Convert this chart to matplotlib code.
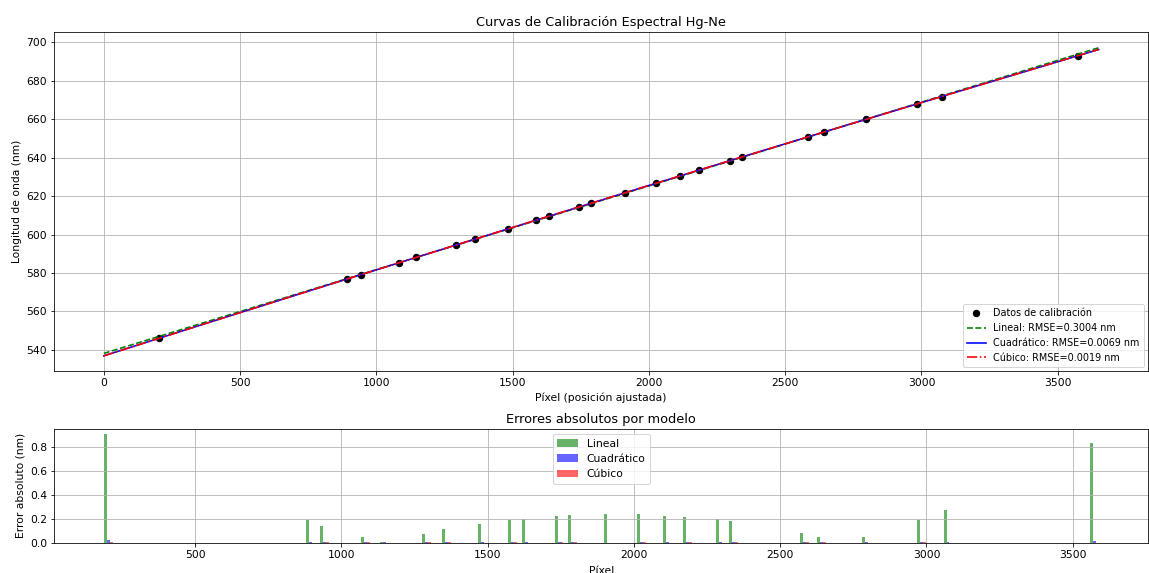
import numpy as np
import matplotlib
matplotlib.use("Agg")
import matplotlib.pyplot as plt

# Hg-Ne reference lines and where they land on the detector
pixels = np.array([202.8, 893.1, 942.2, 1083.5, 1147.1, 1291.0, 1360.5, 1482.5,
                   1584.9, 1634.0, 1744.1, 1789.2, 1912.5, 2026.0, 2115.7, 2182.6,
                   2296.1, 2339.7, 2582.0, 2642.0, 2796.1, 2982.4, 3073.6, 3573.6])
wavelengths = np.array([546.07, 576.96, 579.07, 585.25, 588.19, 594.48, 597.55, 602.99,
                        607.43, 609.62, 614.31, 616.36, 621.73, 626.65, 630.48, 633.44,
                        638.30, 640.22, 650.65, 653.29, 659.90, 667.83, 671.70, 692.95])

# absolute residuals per model (nm)
err_lineal = [0.903, 0.190, 0.140, 0.045, 0.005, 0.073, 0.112, 0.157, 0.190, 0.196,
              0.226, 0.232, 0.241, 0.241, 0.224, 0.218, 0.196, 0.182, 0.084, 0.045,
              0.045, 0.190, 0.274, 0.828]
err_cuadratico = [0.020, 0.004, 0.003, 0.006, 0.005, 0.004, 0.002, 0.005, 0.006, 0.007,
                  0.003, 0.002, 0.001, 0.004, 0.003, 0.005, 0.006, 0.004, 0.007, 0.003,
                  0.006, 0.002, 0.004, 0.013]
err_cubico = [0.002, 0.001, 0.003, 0.002, 0.001, 0.002, 0.004, 0.001, 0.002, 0.001,
              0.002, 0.003, 0.001, 0.002, 0.001, 0.002, 0.001, 0.003, 0.004, 0.002,
              0.001, 0.002, 0.001, 0.001]

rmse = {"Lineal": 0.3004, "Cuadrático": 0.0069, "Cúbico": 0.0019}

plt.rcParams["font.size"] = 10.7
plt.rcParams["lines.linewidth"] = 1.6
plt.rcParams["lines.markersize"] = 6.4

fig = plt.figure(figsize=(1149 / 72, 573 / 72), dpi=72)
ax1 = fig.add_axes([0.047, 0.352, 0.9525, 0.5916])
ax2 = fig.add_axes([0.047, 0.0529, 0.9525, 0.1984])

# calibration curves
x_fit = np.linspace(0, 3650, 500)
c1 = np.polyfit(pixels, wavelengths, 1)
c2 = np.polyfit(pixels, wavelengths, 2)
c3 = np.polyfit(pixels, wavelengths, 3)

ax1.plot(pixels, wavelengths, "ko", label="Datos de calibración")
ax1.plot(x_fit, np.polyval(c1, x_fit), "g--", label=f"Lineal: RMSE={rmse['Lineal']:.4f} nm")
ax1.plot(x_fit, np.polyval(c2, x_fit), "b-", label=f"Cuadrático: RMSE={rmse['Cuadrático']:.4f} nm")
ax1.plot(x_fit, np.polyval(c3, x_fit), "r-.", label=f"Cúbico: RMSE={rmse['Cúbico']:.4f} nm")
ax1.set_xlabel("Píxel (posición ajustada)")
ax1.set_ylabel("Longitud de onda (nm)")
ax1.set_title("Curvas de Calibración Espectral Hg-Ne")
ax1.legend(loc="lower right", fontsize=9.6)
ax1.grid(True)

# residual bars
w = 10
ax2.bar(pixels - w, err_lineal, width=w, color="g", alpha=0.6, label="Lineal")
ax2.bar(pixels, err_cuadratico, width=w, color="b", alpha=0.6, label="Cuadrático")
ax2.bar(pixels + w, err_cubico, width=w, color="r", alpha=0.6, label="Cúbico")
ax2.set_xlabel("Píxel", labelpad=6)
ax2.set_ylabel("Error absoluto (nm)")
ax2.set_title("Errores absolutos por modelo")
ax2.legend(loc="upper center")
ax2.grid(True)

fig.savefig("out.png", dpi=72)
